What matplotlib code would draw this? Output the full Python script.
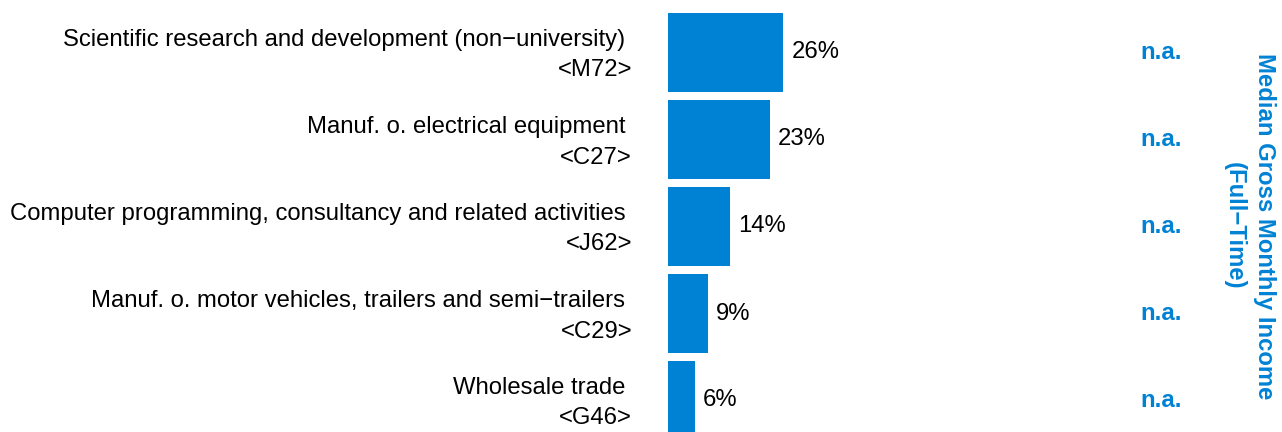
import matplotlib
matplotlib.use("Agg")
import matplotlib.pyplot as plt

plt.rcParams['font.family'] = ['Liberation Sans', 'DejaVu Sans']

categories = [
    "Scientific research and development (non\u2212university)",
    "Manuf. o. electrical equipment",
    "Computer programming, consultancy and related activities",
    "Manuf. o. motor vehicles, trailers and semi\u2212trailers",
    "Wholesale trade",
]
codes = ["<M72>", "<C27>", "<J62>", "<C29>", "<G46>"]
shares = [26, 23, 14, 9, 6]
income = ["n.a.", "n.a.", "n.a.", "n.a.", "n.a."]
income_title = "Median Gross Monthly Income\n(Full\u2212Time)"

BLUE = "#0082D4"
W, H = 1282, 432
FS = 17.2
fig = plt.figure(figsize=(W / 100, H / 100), dpi=100)

# bar axes: x from pixel 668 to 1282
ax = fig.add_axes([668 / W, 0, 1 - 668 / W, 1])
px_per_unit = 4.42
ax.set_xlim(0, (W - 668) / px_per_unit)
spacing = 87.0
c0 = 52.5
ax.set_ylim((H - c0) / spacing, -c0 / spacing)
ax.axis("off")

ys = list(range(len(shares)))
ax.barh(ys, shares, height=79 / spacing, color=BLUE, align="center")

for y, v in zip(ys, shares):
    ax.annotate(f"{v}%", xy=(v, y), xytext=(6, 0), textcoords="offset points",
                ha="left", va="center", fontsize=FS, color="black")

trans = ax.get_yaxis_transform()
xl = -36 / (W - 668)
for y, cat, code, val in zip(ys, categories, codes, income):
    ax.text(xl, y - 6.5 / spacing, cat + " ", transform=trans, ha="right", va="baseline",
            fontsize=FS, color="black")
    ax.text(xl, y + 24 / spacing, code, transform=trans, ha="right", va="baseline",
            fontsize=FS, color="black")
    ax.text((1161 - 668) / (W - 668), y, val, transform=trans, ha="center", va="center",
            fontsize=FS, color=BLUE, fontweight="bold")

fig.text(1249 / W, 1 - 226 / H, income_title, rotation=270, ha="center", va="center",
         fontsize=FS, color=BLUE, fontweight="bold", multialignment="center",
         linespacing=1.4)

fig.savefig("out.png", dpi=100)
